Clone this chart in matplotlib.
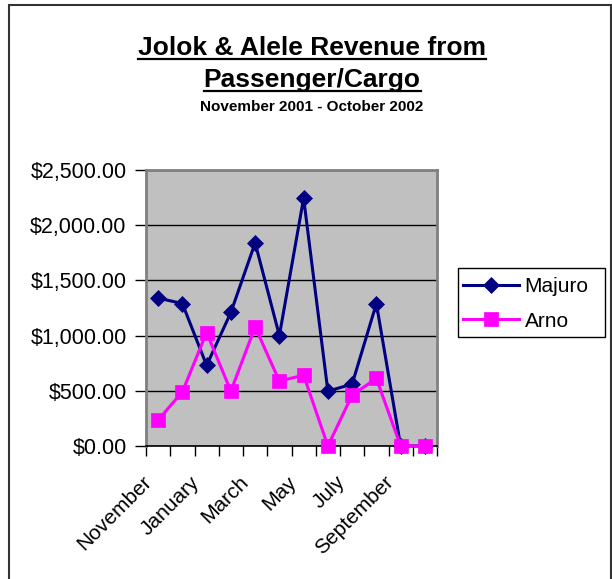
import matplotlib
matplotlib.use('Agg')
import matplotlib.pyplot as plt
import matplotlib.transforms as mtransforms
from matplotlib.lines import Line2D
from matplotlib.patches import Rectangle
from matplotlib.ticker import FuncFormatter

plt.rcParams['font.family'] = ['Liberation Sans', 'DejaVu Sans']

# 数据：2001年11月 - 2002年10月
months = ['November', 'December', 'January', 'February', 'March', 'April',
          'May', 'June', 'July', 'August', 'September', 'October']
majuro = [1340, 1290, 730, 1210, 1840, 1000, 2245, 497, 560, 1290, 0, 0]
arno = [235, 491, 1028, 497, 1079, 588, 642, 0, 461, 612, 0, 0]
y_ticks = [0, 500, 1000, 1500, 2000, 2500]

W, H = 612, 579
fig = plt.figure(figsize=(W / 100, H / 100), dpi=100)
fig.patch.set_facecolor('white')

# 外框
fig.patches.append(Rectangle((9 / W, -0.02), (611 - 9) / W, 1.02 - 5 / H,
                             transform=fig.transFigure, fill=False,
                             edgecolor='#333333', linewidth=1.5))

ax = fig.add_axes([146 / W, 1 - 446 / H, (437 - 146) / W, (446 - 170) / H])
ax.set_facecolor('#C0C0C0')

x = list(range(len(months)))
ax.plot(x, majuro, color='#000080', linewidth=2.2, marker='D', markersize=8,
        markeredgewidth=0.5, label='Majuro', clip_on=False, zorder=3)
ax.plot(x, arno, color='#FF00FF', linewidth=2.2, marker='s', markersize=10,
        markeredgewidth=0.5, label='Arno', clip_on=False, zorder=4)

ax.set_xlim(-0.5, len(months) - 0.5)
ax.set_ylim(0, 2500)
ax.set_yticks(y_ticks)
ax.yaxis.set_major_formatter(FuncFormatter(lambda v, p: f'${v:,.2f}'))
ax.grid(axis='y', color='black', linewidth=1)
ax.set_axisbelow(True)

# x轴：类别边界刻度 + 隔月标签
ax.set_xticks([i - 0.5 for i in range(len(months) + 1)], minor=True)
ax.set_xticks(x[::2])
ax.set_xticklabels(months[::2], rotation=45, ha='right', va='center',
                   rotation_mode='anchor')
ax.tick_params(axis='x', which='major', length=0, pad=24, labelsize=15)
ax.tick_params(axis='x', which='minor', length=7, width=1, direction='out')
ax.tick_params(axis='y', length=8, width=1, direction='out', pad=6, labelsize=15.5)
offset = mtransforms.ScaledTranslation(-10 / 100, 0, fig.dpi_scale_trans)
for lbl in ax.get_xticklabels():
    lbl.set_transform(lbl.get_transform() + offset)

for side in ['top', 'right', 'left']:
    ax.spines[side].set_color('#808080')
    ax.spines[side].set_linewidth(2)
ax.spines['bottom'].set_color('black')
ax.spines['bottom'].set_linewidth(1.2)

# 图例（手动画外框）
leg = fig.legend(loc='upper left', bbox_to_anchor=(463 / W, 1 - 277 / H),
                 fontsize=15, frameon=False, handlelength=2.7,
                 borderpad=0, labelspacing=0.75, handletextpad=0.25,
                 borderaxespad=0)
fig.patches.append(Rectangle((458 / W, 1 - 337 / H), (605 - 458) / W, (337 - 268) / H,
                             transform=fig.transFigure, fill=False,
                             edgecolor='black', linewidth=1))

# 标题（带下划线）
t1 = fig.text(312 / W, 1 - 55 / H, 'Jolok & Alele Revenue from', ha='center',
              va='baseline', fontsize=19, fontweight='bold')
t2 = fig.text(312 / W, 1 - 87 / H, 'Passenger/Cargo', ha='center',
              va='baseline', fontsize=19, fontweight='bold')
fig.text(312 / W, 1 - 111 / H, 'November 2001 - October 2002', ha='center',
         va='baseline', fontsize=11, fontweight='bold')

fig.canvas.draw()
renderer = fig.canvas.get_renderer()
for t, uy in [(t1, 59), (t2, 91)]:
    bb = t.get_window_extent(renderer)
    fig.add_artist(Line2D([bb.x0 / W, bb.x1 / W], [1 - uy / H, 1 - uy / H],
                          transform=fig.transFigure, color='black', linewidth=1.6))

fig.savefig('out.png', dpi=100)
